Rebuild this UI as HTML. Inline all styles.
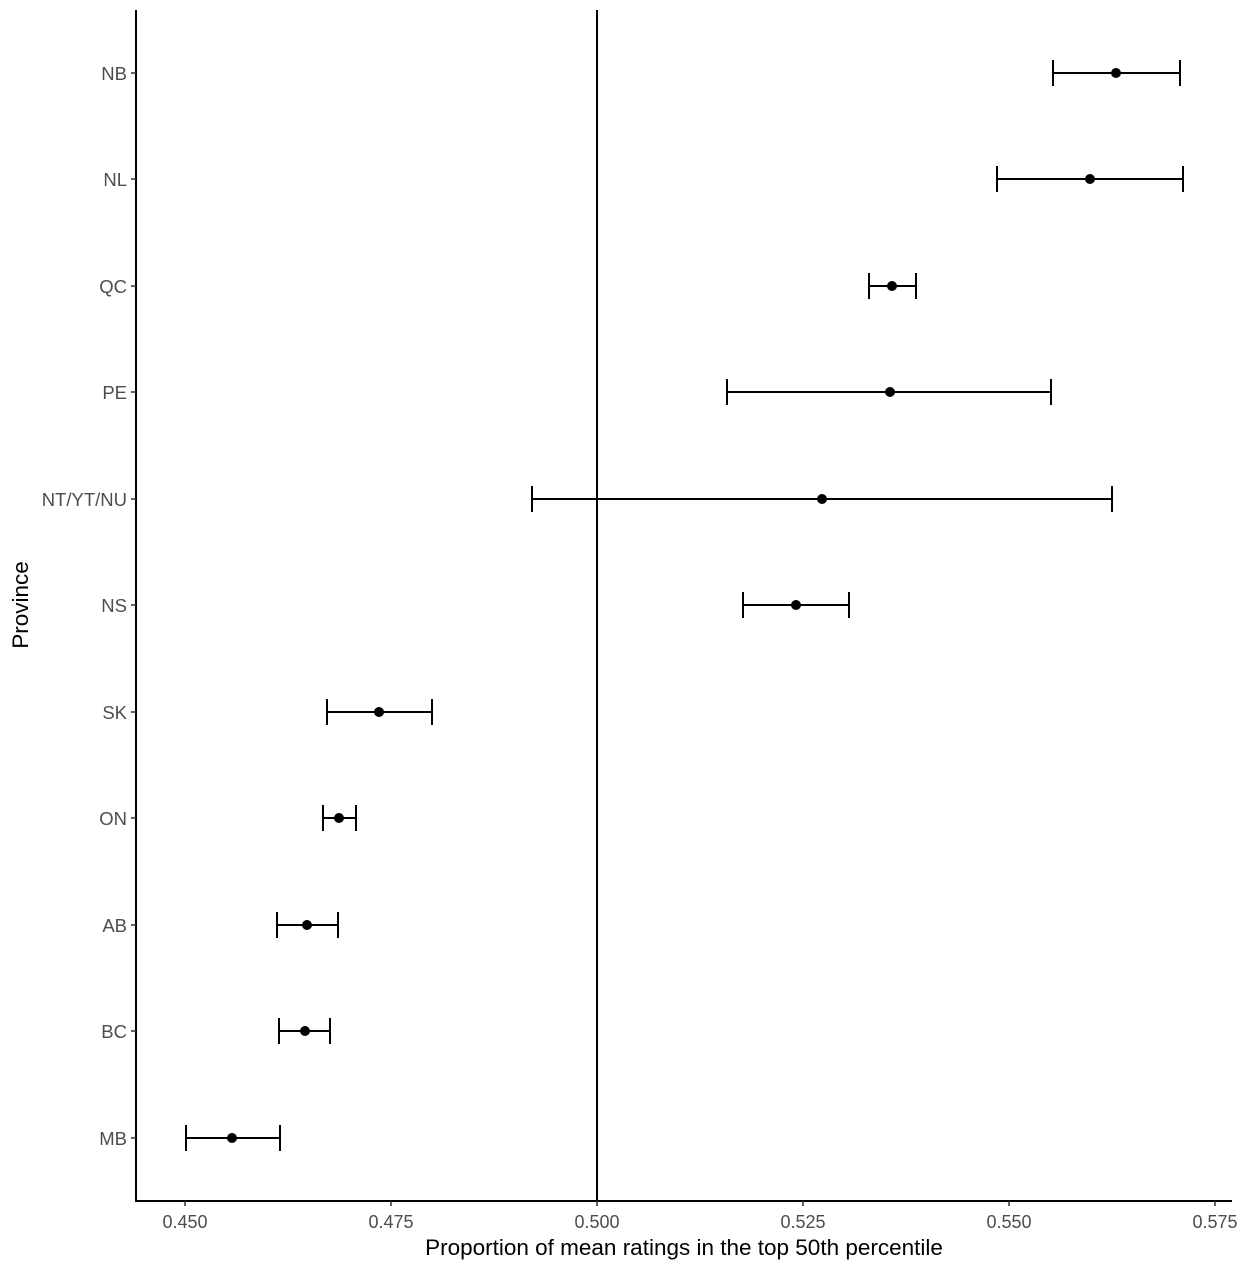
<!DOCTYPE html>
<html><head><style>body{margin:0;background:#fff}svg{display:block}</style></head><body>
<svg width="1243" height="1270" xmlns="http://www.w3.org/2000/svg" font-family="Liberation Sans, sans-serif">
<rect width="1243" height="1270" fill="#fff"/>
<line x1="136" y1="10" x2="136" y2="1202" stroke="#000" stroke-width="2"/>
<line x1="135" y1="1201" x2="1232" y2="1201" stroke="#000" stroke-width="2"/>
<line x1="597" y1="10" x2="597" y2="1201" stroke="#000" stroke-width="2"/>
<g stroke="#333" stroke-width="1.5">
<line x1="185" y1="1201" x2="185" y2="1206"/><line x1="391" y1="1201" x2="391" y2="1206"/><line x1="597" y1="1201" x2="597" y2="1206"/><line x1="803" y1="1201" x2="803" y2="1206"/><line x1="1009" y1="1201" x2="1009" y2="1206"/><line x1="1215" y1="1201" x2="1215" y2="1206"/>
<line x1="131" y1="73" x2="136" y2="73"/><line x1="131" y1="179" x2="136" y2="179"/><line x1="131" y1="286" x2="136" y2="286"/><line x1="131" y1="392" x2="136" y2="392"/><line x1="131" y1="499" x2="136" y2="499"/><line x1="131" y1="605" x2="136" y2="605"/><line x1="131" y1="712" x2="136" y2="712"/><line x1="131" y1="818" x2="136" y2="818"/><line x1="131" y1="925" x2="136" y2="925"/><line x1="131" y1="1031" x2="136" y2="1031"/><line x1="131" y1="1138" x2="136" y2="1138"/>
</g>
<g fill="#4d4d4d" font-size="18" text-anchor="middle">
<text x="185" y="1228">0.450</text><text x="391" y="1228">0.475</text><text x="597" y="1228">0.500</text><text x="803" y="1228">0.525</text><text x="1009" y="1228">0.550</text><text x="1215" y="1228">0.575</text>
</g>
<g fill="#4d4d4d" font-size="18.5" text-anchor="end">
<text x="127" y="80">NB</text><text x="127" y="186">NL</text><text x="127" y="293">QC</text><text x="127" y="399">PE</text><text x="127" y="506">NT/YT/NU</text><text x="127" y="612">NS</text><text x="127" y="719">SK</text><text x="127" y="825">ON</text><text x="127" y="932">AB</text><text x="127" y="1038">BC</text><text x="127" y="1145">MB</text>
</g>
<text x="684" y="1255" font-size="22.5" text-anchor="middle" fill="#000">Proportion of mean ratings in the top 50th percentile</text>
<text transform="translate(28,605) rotate(-90)" font-size="22.5" text-anchor="middle" fill="#000">Province</text>
<g stroke="#000" stroke-width="2" fill="none">
<path d="M1053 73H1180M1053 60V86M1180 60V86"/>
<path d="M997 179H1183M997 166V192M1183 166V192"/>
<path d="M869 286H916M869 273V299M916 273V299"/>
<path d="M727 392H1051M727 379V405M1051 379V405"/>
<path d="M532 499H1112M532 486V512M1112 486V512"/>
<path d="M743 605H849M743 592V618M849 592V618"/>
<path d="M327 712H432M327 699V725M432 699V725"/>
<path d="M323 818H356M323 805V831M356 805V831"/>
<path d="M277 925H338M277 912V938M338 912V938"/>
<path d="M279 1031H330M279 1018V1044M330 1018V1044"/>
<path d="M186 1138H280M186 1125V1151M280 1125V1151"/>
</g>
<g fill="#000">
<circle cx="1116" cy="73" r="5"/><circle cx="1090" cy="179" r="5"/><circle cx="892" cy="286" r="5"/><circle cx="890" cy="392" r="5"/><circle cx="822" cy="499" r="5"/><circle cx="796" cy="605" r="5"/><circle cx="379" cy="712" r="5"/><circle cx="339" cy="818" r="5"/><circle cx="307" cy="925" r="5"/><circle cx="305" cy="1031" r="5"/><circle cx="232" cy="1138" r="5"/>
</g>
</svg>
</body></html>
